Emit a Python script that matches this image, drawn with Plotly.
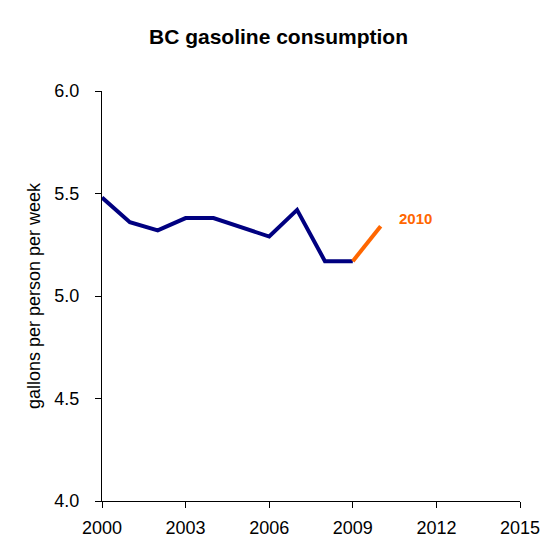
import plotly.graph_objects as go

years = [2000, 2001, 2002, 2003, 2004, 2005, 2006, 2007, 2008, 2009]
consumption = [5.48, 5.36, 5.32, 5.38, 5.38, 5.335, 5.29, 5.42, 5.17, 5.17]
years_new = [2009, 2010]
consumption_new = [5.17, 5.34]
label_2010 = "2010"

navy = "#000080"
orange = "#FF6600"
font_family = "Liberation Sans, Arial, sans-serif"

W, H = 549, 551

fig = go.Figure()
fig.add_trace(go.Scatter(x=years, y=consumption, mode="lines",
                         line=dict(color=navy, width=4), showlegend=False))
fig.add_trace(go.Scatter(x=years_new, y=consumption_new, mode="lines",
                         line=dict(color=orange, width=4), showlegend=False))

fig.add_annotation(x=2010, y=consumption_new[-1], text="<b>" + label_2010 + "</b>",
                   showarrow=False, xanchor="left", yanchor="middle",
                   xshift=16, yshift=8,
                   font=dict(family=font_family, size=15, color=orange))

fig.update_layout(
    width=W, height=H,
    margin=dict(l=94, r=37, t=83, b=58),
    paper_bgcolor="white", plot_bgcolor="white",
    title=dict(text="<b>BC gasoline consumption</b>", x=270.5 / W,
               xanchor="center",
               y=1 - 29 / H, yanchor="middle",
               font=dict(family=font_family, size=21, color="black")),
    font=dict(family=font_family, size=18, color="black"),
)
fig.update_xaxes(range=[2000, 2015], tickvals=[2000, 2003, 2006, 2009, 2012, 2015],
                 ticktext=["2000", "2003", "2006", "2009", "2012", "2015"],
                 showline=True, linecolor="black", linewidth=1.2,
                 ticks="outside", ticklen=6, tickcolor="black",
                 showgrid=False, zeroline=False,
                 tickfont=dict(size=18), ticklabelstandoff=4)
fig.update_yaxes(range=[4, 6], tickvals=[4.0, 4.5, 5.0, 5.5, 6.0],
                 ticktext=["4.0", "4.5", "5.0", "5.5", "6.0"],
                 showline=True, linecolor="black", linewidth=1.2,
                 ticks="outside", ticklen=6, tickcolor="black",
                 showgrid=False, zeroline=False,
                 tickfont=dict(size=18), ticklabelstandoff=12,
                 title=dict(text="gallons per person per week", standoff=8,
                            font=dict(size=18)))

fig.write_html("out.html")
